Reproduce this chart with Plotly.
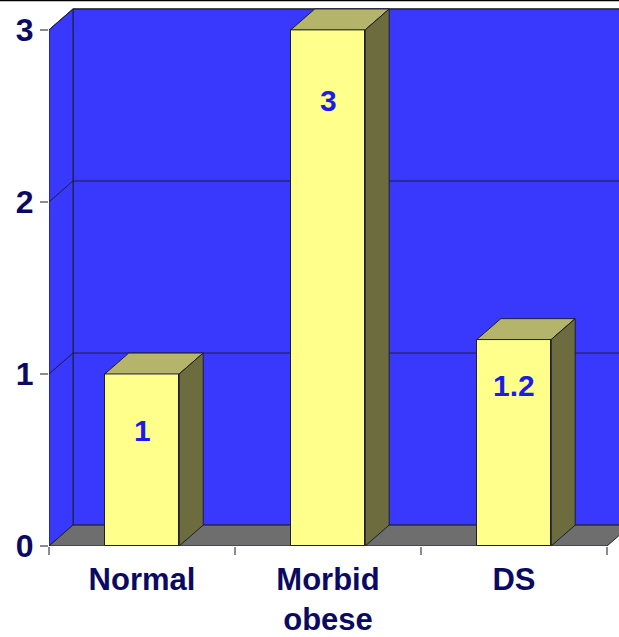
import plotly.graph_objects as go

# ---- data -------------------------------------------------------------
categories = ["Normal", "Morbid<br>obese", "DS"]
values = [1, 3, 1.2]
value_labels = ["1", "3", "1.2"]
y_ticks = [0, 1, 2, 3]

# ---- 3-D look (depth offset expressed in axis units) -------------------
DEPTH_X = 0.129          # category units
DEPTH_Y = 0.1216         # value units
BAR_W = 0.4
X_LO, X_HI = -0.5, 2.5645
Y_HI = 3.162
LEFT_EDGE = -0.5
RIGHT_EDGE = len(categories) - 0.5

WALL = "#3939FD"
FLOOR = "#6E6E6E"
EDGE = "#1E1E30"
FRONT = "#FFFF8C"
TOP = "#B4B46A"
SIDE = "#6C6C3E"
NAVY = "#0A0A62"
LABEL_BLUE = "#1C1CEA"
FONT = "Liberation Sans, Arial, sans-serif"

# vertical placement of each value label below its bar top (px)
label_drop_px = [-57, -71, -46]

fig = go.Figure()

# front faces of the bars
fig.add_trace(go.Bar(
    x=list(range(len(categories))), y=values, width=BAR_W,
    marker=dict(color=FRONT, line=dict(color=EDGE, width=1)),
    hoverinfo="skip", showlegend=False,
))

# top and side faces, derived from each bar's value
for i, v in enumerate(values):
    l, r = i - BAR_W / 2, i + BAR_W / 2
    fig.add_trace(go.Scatter(
        x=[l, r, r + DEPTH_X, l + DEPTH_X, l],
        y=[v, v, v + DEPTH_Y, v + DEPTH_Y, v],
        mode="lines", fill="toself", fillcolor=TOP,
        line=dict(color=EDGE, width=1), hoverinfo="skip", showlegend=False,
    ))
    fig.add_trace(go.Scatter(
        x=[r, r + DEPTH_X, r + DEPTH_X, r, r],
        y=[0, DEPTH_Y, v + DEPTH_Y, v, 0],
        mode="lines", fill="toself", fillcolor=SIDE,
        line=dict(color=EDGE, width=1), hoverinfo="skip", showlegend=False,
    ))

shapes = []
top_val = max(y_ticks)
bx = LEFT_EDGE + DEPTH_X
# back wall
shapes.append(dict(type="rect", xref="x", yref="y", layer="below",
                   x0=bx, x1=X_HI + 1, y0=DEPTH_Y, y1=top_val + DEPTH_Y,
                   fillcolor=WALL, line=dict(color=EDGE, width=1)))
# left side wall
shapes.append(dict(type="path", xref="x", yref="y", layer="below",
                   path=f"M {LEFT_EDGE},0 L {LEFT_EDGE},{top_val} L {bx},{top_val + DEPTH_Y} "
                        f"L {bx},{DEPTH_Y} Z",
                   fillcolor=WALL, line=dict(color=EDGE, width=1)))
# floor
shapes.append(dict(type="path", xref="x", yref="y", layer="below",
                   path=f"M {LEFT_EDGE},0 L {RIGHT_EDGE},0 L {RIGHT_EDGE + DEPTH_X},{DEPTH_Y} "
                        f"L {bx},{DEPTH_Y} Z",
                   fillcolor=FLOOR, line=dict(color=EDGE, width=1)))
# gridlines across the left and back walls
for t in y_ticks[1:]:
    shapes.append(dict(type="line", xref="x", yref="y", layer="below",
                       x0=LEFT_EDGE, y0=t, x1=bx, y1=t + DEPTH_Y,
                       line=dict(color=EDGE, width=1)))
    shapes.append(dict(type="line", xref="x", yref="y", layer="below",
                       x0=bx, y0=t + DEPTH_Y, x1=X_HI + 1, y1=t + DEPTH_Y,
                       line=dict(color=EDGE, width=1)))
# rule along the top of the page
shapes.append(dict(type="line", xref="paper", yref="paper",
                   x0=-1, x1=1.1, y0=1.003, y1=1.003,
                   line=dict(color="black", width=2)))

annotations = []
for i, (v, txt) in enumerate(zip(values, value_labels)):
    annotations.append(dict(
        x=i, y=v, xref="x", yref="y", text=txt, showarrow=False,
        yshift=label_drop_px[i], yanchor="middle",
        font=dict(family=FONT, size=30, color=LABEL_BLUE, weight="bold"),
    ))

fig.update_layout(
    width=619, height=637,
    margin=dict(l=49, r=0, t=2, b=89),
    paper_bgcolor="white", plot_bgcolor="white",
    shapes=shapes, annotations=annotations,
    bargap=0, showlegend=False,
    xaxis=dict(
        range=[X_LO, X_HI], showgrid=False, zeroline=False, showline=False,
        tickmode="array", tickvals=list(range(len(categories))), ticktext=categories,
        ticks="", ticklabelstandoff=12,
        tickfont=dict(family=FONT, size=31, color=NAVY, weight="bold"),
        minor=dict(tickmode="array",
                   tickvals=[i - 0.5 for i in range(len(categories) + 1)],
                   ticks="outside", ticklen=8, tickwidth=2, tickcolor="#8C8C8C"),
        fixedrange=True,
    ),
    yaxis=dict(
        range=[0, Y_HI], showgrid=False, zeroline=False, showline=False,
        tickmode="array", tickvals=y_ticks,
        ticks="outside", ticklen=8, tickwidth=2, tickcolor="#8C8C8C",
        ticklabelstandoff=0,
        tickfont=dict(family=FONT, size=32, color=NAVY, weight="bold"),
        fixedrange=True,
    ),
)

fig.write_html("out.html")
